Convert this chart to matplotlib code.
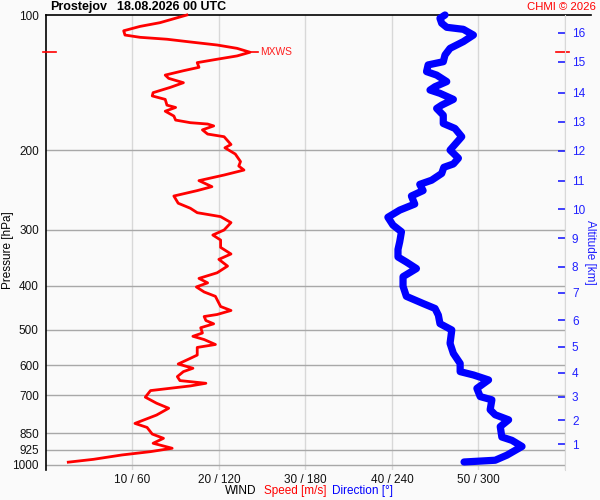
import matplotlib
matplotlib.use("Agg")
import matplotlib.pyplot as plt

plt.rcParams['font.family'] = ['Liberation Sans', 'DejaVu Sans']

# ---- data ----
speed_p = [100, 104, 106, 108.4, 110.8, 112.1, 113.2, 114.8, 116.6, 118.6,
           121.0, 123.3, 125.4, 127.6, 130.7, 133.0, 136.0, 138.3, 141.4, 144.8,
           148.8, 151.3, 154.0, 158.6, 160.5, 163.6, 167.7, 171.2, 173.5, 174.7,
           176.4, 180.0, 183.9, 186.4, 194.0, 197.3, 203.7, 211.7, 216.6, 221.1,
           226.8, 233.4, 240.7, 245.6, 252.5, 262.0, 268.8, 275.0, 280.6, 289.3,
           300.5, 308.3, 316.3, 328.4, 339.7, 349.2, 361.4, 374.0, 384.9, 393.8,
           402.1, 412.6, 421.9, 444.4, 453.6, 463.0, 467.8, 477.5, 485.6, 495.4,
           509.0, 517.6, 526.3, 539.8, 548.0, 569.8, 579.5, 596.4, 609.6, 620.2,
           636.2, 649.3, 658.3, 667.3, 683.4, 706.8, 729.0, 748.0, 774.5, 808.4,
           825.1, 853.6, 872.4, 894.8, 918.0, 934.0, 950.0, 971.5, 985.7]
speed_ms = [16.3, 13.2, 10.9, 9.0, 9.15, 10.9, 14.0, 16.7, 19.8, 22.1,
            23.6, 22.1, 19.8, 17.5, 17.7, 15.9, 13.8, 14.2, 15.9, 14.4,
            12.4, 12.3, 13.8, 14.0, 15.0, 13.8, 14.8, 15.0, 16.7, 18.7,
            19.4, 18.1, 18.7, 20.6, 21.4, 20.7, 21.9, 22.5, 22.3, 22.9,
            20.6, 17.7, 19.2, 17.5, 14.8, 15.3, 16.7, 17.5, 20.2, 21.4,
            20.6, 19.3, 20.2, 20.2, 21.4, 20.0, 21.0, 19.8, 17.7, 18.7,
            17.4, 18.3, 19.6, 20.2, 21.4, 19.8, 18.3, 18.5, 19.4, 17.9,
            18.1, 17.0, 18.3, 19.6, 17.5, 17.5, 16.7, 15.3, 17.0, 15.9,
            15.2, 15.5, 18.5, 16.7, 12.1, 11.5, 12.8, 14.2, 12.8, 10.3,
            11.7, 12.3, 13.6, 12.4, 14.6, 12.1, 8.8, 5.5, 2.6]

dir_p = [100, 101.7, 104.3, 106.5, 107.6, 110.8, 114.6, 118.6, 122.7, 127.0,
         129.1, 133.6, 136.0, 140.6, 144.3, 146.8, 149.3, 154.0, 158.6, 161.3,
         167.0, 174.2, 178.7, 186.4, 199.6, 208.1, 214.3, 218.0, 225.0, 232.9,
         237.9, 245.6, 252.5, 263.1, 271.4, 281.5, 293.0, 303.2, 319.1, 331.9,
         345.0, 354.0, 366.0, 381.5, 400.7, 421.9, 437.7, 449.0, 464.7, 485.2,
         501.2, 536.6, 565.0, 594.8, 620.2, 630.9, 647.2, 675.7, 704.7, 716.5,
         753.7, 773.4, 793.7, 821.6, 866.7, 881.6, 909.5, 951.0, 976.0, 984.8]
dir_deg = [276.8, 273.3, 274.5, 278.0, 289.5, 296.5, 289.5, 280.3, 276.8, 275.6,
           265.1, 264.0, 271.0, 278.0, 269.9, 266.4, 273.3, 282.6, 274.5, 271.0,
           275.6, 275.6, 283.7, 288.4, 280.3, 286.1, 282.6, 276.0, 274.5, 267.5,
           259.3, 261.6, 253.5, 255.8, 245.4, 237.2, 240.7, 246.6, 245.4, 244.2,
           244.2, 250.0, 257.0, 247.7, 247.7, 250.0, 261.6, 269.9, 272.2, 273.3,
           281.5, 280.3, 282.6, 287.3, 287.3, 296.5, 307.0, 298.9, 301.2, 309.3,
           308.1, 311.6, 320.9, 315.1, 316.2, 323.2, 330.2, 319.7, 311.6, 290.0]

pressure_ticks = [100, 200, 300, 400, 500, 600, 700, 850, 925, 1000]
speed_ticks = [10, 20, 30, 40, 50]
speed_tick_labels = ["10 / 60", "20 / 120", "30 / 180", "40 / 240", "50 / 300"]
alt_km = list(range(1, 17))
alt_p = [898.5, 794.6, 705.3, 623.7, 546.0, 476.3, 414.2, 362.6, 313.6, 270.3,
         233.8, 200.3, 172.7, 148.8, 127.0, 109.5]
mxws_p = 121.0
mxws_ms = 23.6

assert len(speed_p) == len(speed_ms)
assert len(dir_p) == len(dir_deg)

BG = '#fafafa'
FS = 8.5
fig = plt.figure(figsize=(6, 5), dpi=100, facecolor=BG)
W, H = 600, 500
ax = fig.add_axes([45.8 / W, 1 - 470 / H, (565 - 45.8) / W, (470 - 15) / H])
ax.set_facecolor(BG)
ax.set_yscale('log')
ax.set_ylim(1026, 100)
ax.set_xlim(0, 60)

# grids
for p in pressure_ticks[1:]:
    ax.axhline(p, color='#a8a8a8', lw=1.0, zorder=1)
for s in speed_ticks + [60]:
    ax.axvline(s, color='#d8d8d8', lw=1.0, zorder=0)
ax.axhline(100, xmin=0, xmax=(591 - 45.8) / (565 - 45.8), color='black', lw=1.2,
           clip_on=False, zorder=3)

for sp in ['top', 'bottom', 'right']:
    ax.spines[sp].set_visible(False)
ax.spines['left'].set_color('black')
ax.spines['left'].set_linewidth(1.2)

ax.set_yticks(pressure_ticks)
ax.set_yticklabels([str(p) for p in pressure_ticks])
ax.yaxis.set_minor_locator(matplotlib.ticker.NullLocator())
ax.tick_params(axis='y', length=0, pad=5, labelsize=FS, colors='#111111')
ax.set_xticks(speed_ticks)
ax.set_xticklabels(speed_tick_labels)
ax.tick_params(axis='x', length=0, pad=3, labelsize=FS, colors='#111111')

# direction (scaled so 300 deg = 50)
ax.plot([d / 6 for d in dir_deg], dir_p, color='#0000ff', lw=5.2,
        solid_capstyle='round', solid_joinstyle='round', zorder=4, clip_on=False)
# speed
ax.plot(speed_ms, speed_p, color='#ff0000', lw=2.0, zorder=5, clip_on=False,
        solid_joinstyle='round')

# max wind marks
ax.plot([mxws_ms, mxws_ms + 0.9], [mxws_p, mxws_p], color='#ff0000', lw=1.2, zorder=5)
ax.text(mxws_ms + 1.2, mxws_p, "MXWS", color='#ff2020', fontsize=7.4,
        va='center', ha='left')
ax.plot([-0.36, 1.2], [mxws_p, mxws_p], color='#ff0000', lw=1.2, clip_on=False, zorder=5)
ax.plot([59.0, 60.5], [mxws_p, mxws_p], color='#ff0000', lw=1.2, clip_on=False, zorder=5)

# altitude axis
ax2 = ax.twinx()
ax2.set_yscale('log')
ax2.set_ylim(1026, 100)
ax2.set_yticks(alt_p)
ax2.set_yticklabels([str(a) for a in alt_km])
ax2.yaxis.set_minor_locator(matplotlib.ticker.NullLocator())
ax2.tick_params(axis='y', direction='in', length=5, width=1.2, color='#2020ff',
                labelcolor='#2020ff', labelsize=FS, pad=5)
for sp in ['top', 'bottom', 'left']:
    ax2.spines[sp].set_visible(False)
ax2.spines['right'].set_color('#d8d8d8')

# texts
def ftext(x, y, s, **kw):
    fig.text(x / W, 1 - y / H, s, **kw)

ftext(50, 7, "Prostejov", fontsize=9, fontweight='bold', va='center', ha='left')
ftext(117, 7, "18.08.2026 00 UTC", fontsize=9, fontweight='bold', va='center', ha='left')
ftext(596, 7, "CHMI © 2026", fontsize=8.2, color='#ff0000', va='center', ha='right')
ftext(8, 250, "Pressure [hPa]", fontsize=FS, rotation=90, va='center', ha='center')
ftext(590, 252, "Altitude [km]", fontsize=FS, rotation=270, va='center', ha='center',
      color='#2020ff')
ftext(225, 491, "WIND", fontsize=FS, va='center', ha='left')
ftext(264, 491, "Speed [m/s]", fontsize=FS, va='center', ha='left', color='#ff0000')
ftext(332, 491, "Direction [°]", fontsize=FS, va='center', ha='left', color='#0000ff')

fig.savefig("out.png", dpi=100, facecolor=BG)
